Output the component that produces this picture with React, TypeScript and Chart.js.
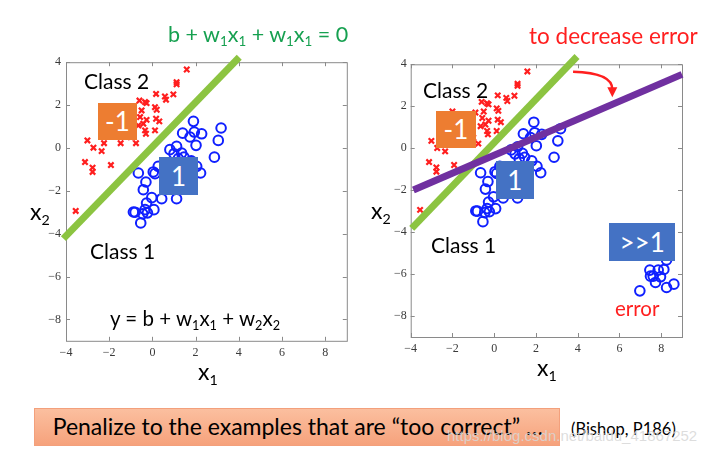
import React, { useEffect, useRef } from "react";
import { Chart, registerables } from "chart.js";

Chart.register(...registerables);

// ---- data ----
const xTicks = [-4, -2, 0, 2, 4, 6, 8];
const yTicks = [-8, -6, -4, -2, 0, 2, 4];

const class2X = [1.59, 1.12, 1.12, 0.17, 0.58, 0.97, 0.63, -0.6, -0.34, -0.27, 0.12, 0.2, -0.5, -0.57, -0.27, 0.17, 0.32, -0.42, -0.65, -0.34, 0.12, -0.3, -0.76, -1.47, -2.24, -3.01, -2.73, -2.35, -3.12, -2.77, -2.77, -1.92, -3.55, -0.9, -1.0, -1.5, -1.2, -2.0];
const class2Y = [3.66, 3.07, 2.97, 2.52, 2.4, 2.5, 2.25, 2.21, 2.14, 2.09, 1.9, 1.78, 1.75, 1.44, 1.31, 1.36, 1.24, 1.13, 1.05, 0.82, 0.82, 0.66, 0.22, 0.22, 0.22, 0.35, 0.01, -0.15, -0.66, -0.92, -1.12, -0.8, -2.94, 1.7, 0.5, 0.8, 1.2, 1.75];

const class1X = [1.9, 3.18, 1.4, 1.94, 2.28, 1.74, 3.05, 2.02, 0.81, 1.12, 1.0, 1.35, 1.46, 1.2, 2.87, 2.05, 2.23, -0.65, 0.27, 0.04, 0.12, -0.3, -0.42, 0.43, 1.12, -0.03, -0.27, -0.34, -0.45, -0.88, -0.8, 0.07, -0.23, -0.54, 0.6, 1.5, 1.8, 0.9];
const class1Y = [1.24, 0.93, 0.69, 0.74, 0.66, 0.51, 0.35, 0.12, -0.08, 0.07, -0.27, -0.24, -0.43, -0.5, -0.43, -0.86, -1.17, -1.17, -0.86, -1.12, -1.2, -1.59, -1.95, -2.37, -2.37, -2.32, -2.57, -2.88, -3.07, -2.99, -3.0, -2.88, -3.03, -3.5, -1.5, -1.0, -0.6, -1.9];

const outlierX = [6.98, 7.46, 7.62, 7.86, 8.13, 7.97, 7.73, 8.26, 8.61, 8.26, 7.49];
const outlierY = [-6.8, -5.81, -6.1, -5.81, -5.78, -6.13, -6.4, -6.64, -6.48, -5.33, -6.1];

const leftBoundaryX = [-4.12, 4.02];
const leftBoundaryY = [-4.23, 4.23];
const rightBoundaryX = [-3.95, 3.97];
const rightBoundaryY = [-3.82, 4.37];
const newBoundaryX = [-3.87, 9.0];
const newBoundaryY = [-1.99, 3.52];

// arrow: start, control, tip
const arrowX = [3.78, 5.66, 5.66];
const arrowY = [3.65, 3.6, 2.43];

const RED = "#ff1f1f";
const BLUE = "#1020ff";
const GREEN = "#8cc441";
const PURPLE = "#7030a0";

const pts = (xs: number[], ys: number[]) => xs.map((x, i) => ({ x, y: ys[i] }));
const fmt = (v: any) => (Number(v) < 0 ? "\u2212" + Math.abs(Number(v)) : String(v));

const framePlugin = {
  id: "frame",
  beforeDatasetsDraw(chart: any) {
    const { ctx, chartArea: a, scales } = chart;
    ctx.save();
    ctx.strokeStyle = "#8a8a8a";
    ctx.lineWidth = 1;
    ctx.strokeRect(a.left + 0.5, a.top + 0.5, a.right - a.left, a.bottom - a.top);
    const tl = 4;
    ctx.beginPath();
    xTicks.forEach((v) => {
      const px = Math.round(scales.x.getPixelForValue(v)) + 0.5;
      ctx.moveTo(px, a.bottom);
      ctx.lineTo(px, a.bottom - tl);
      ctx.moveTo(px, a.top);
      ctx.lineTo(px, a.top + tl);
    });
    yTicks.forEach((v) => {
      const py = Math.round(scales.y.getPixelForValue(v)) + 0.5;
      ctx.moveTo(a.left, py);
      ctx.lineTo(a.left + tl, py);
      ctx.moveTo(a.right, py);
      ctx.lineTo(a.right - tl, py);
    });
    ctx.stroke();
    ctx.restore();
  },
};

const arrowPlugin = {
  id: "arrow",
  afterDatasetsDraw(chart: any) {
    const { ctx, scales } = chart;
    const p = arrowX.map((v, i) => [scales.x.getPixelForValue(v), scales.y.getPixelForValue(arrowY[i])]);
    ctx.save();
    ctx.strokeStyle = RED;
    ctx.fillStyle = RED;
    ctx.lineWidth = 2.5;
    ctx.beginPath();
    ctx.moveTo(p[0][0], p[0][1]);
    ctx.quadraticCurveTo(p[1][0], p[1][1], p[2][0], p[2][1] - 8);
    ctx.stroke();
    ctx.beginPath();
    ctx.moveTo(p[2][0], p[2][1]);
    ctx.lineTo(p[2][0] - 5, p[2][1] - 10);
    ctx.lineTo(p[2][0] + 5, p[2][1] - 10);
    ctx.closePath();
    ctx.fill();
    ctx.restore();
  },
};

function makeScale(axis: "x" | "y", ticks: number[], min: number, max: number, padding: number, size: number) {
  return {
    type: "linear",
    min,
    max,
    afterBuildTicks: (s: any) => {
      s.ticks = ticks.map((v) => ({ value: v }));
    },
    afterFit: (s: any) => {
      if (axis === "x") s.height = size;
      else s.width = size;
    },
    grid: { display: false, drawTicks: false },
    border: { display: false },
    ticks: {
      autoSkip: false,
      maxRotation: 0,
      padding,
      color: "#3a3a3a",
      font: { family: "Liberation Serif", size: 12 },
      callback: (v: any) => fmt(v),
    },
  };
}

type PanelProps = {
  left: number;
  top: number;
  width: number;
  height: number;
  pad: { left: number; right: number; top: number; bottom: number };
  yPad: number;
  datasets: any[];
  plugins: any[];
};

function Panel({ left, top, width, height, pad, yPad, datasets, plugins }: PanelProps) {
  const ref = useRef<HTMLCanvasElement | null>(null);
  useEffect(() => {
    if (!ref.current) return;
    const chart = new Chart(ref.current, {
      type: "scatter",
      data: { datasets },
      options: {
        responsive: false,
        animation: false,
        layout: { padding: pad },
        plugins: { legend: { display: false }, tooltip: { enabled: false } },
        scales: {
          x: makeScale("x", xTicks, -4, 9, 5, 25) as any,
          y: makeScale("y", yTicks, -9, 4, yPad, 30) as any,
        },
      },
      plugins,
    } as any);
    return () => chart.destroy();
  }, []);
  return (
    <canvas
      ref={ref}
      width={width}
      height={height}
      style={{ position: "absolute", left, top, width, height }}
    />
  );
}

const lineDs = (xs: number[], ys: number[], color: string) => ({
  data: pts(xs, ys),
  showLine: true,
  borderColor: color,
  borderWidth: 7,
  pointRadius: 0,
  borderCapStyle: "butt",
  clip: false,
});
const crossDs = (xs: number[], ys: number[]) => ({
  data: pts(xs, ys),
  pointStyle: "crossRot",
  pointRadius: 3.8,
  pointBorderWidth: 2.2,
  borderColor: RED,
  backgroundColor: RED,
});
const circleDs = (xs: number[], ys: number[]) => ({
  data: pts(xs, ys),
  pointStyle: "circle",
  pointRadius: 4.8,
  pointBorderWidth: 2,
  borderColor: BLUE,
  backgroundColor: "rgba(0,0,0,0)",
});

const Sub = ({ children }: { children: React.ReactNode }) => (
  <span style={{ fontSize: "0.62em", position: "relative", top: "0.32em" }}>{children}</span>
);

const txt = (left: number, cy: number, size: number, color = "#000"): React.CSSProperties => ({
  position: "absolute",
  left,
  top: cy - size * 0.6,
  fontSize: size,
  lineHeight: `${size * 1.2}px`,
  color,
  whiteSpace: "nowrap",
});

const box = (x0: number, y0: number, x1: number, y1: number, bg: string): React.CSSProperties => ({
  position: "absolute",
  left: x0,
  top: y0,
  width: x1 - x0,
  height: y1 - y0,
  background: bg,
  color: "#fff",
  fontSize: 26,
  display: "flex",
  alignItems: "center",
  justifyContent: "center",
});

export default function App() {
  const ORANGE = "#ed7d31";
  const BBOX = "#4472c4";
  return (
    <div
      style={{
        position: "fixed",
        left: 0,
        top: 0,
        width: 725,
        height: 454,
        background: "#fff",
        overflow: "hidden",
        fontFamily: "Lato, 'Open Sans', sans-serif",
      }}
    >
      <Panel
        left={20}
        top={50}
        width={340}
        height={320}
        pad={{ left: 16, right: 13.2, top: 11.7, bottom: 4.2 }}
        yPad={5}
        datasets={[
          lineDs(leftBoundaryX, leftBoundaryY, GREEN),
          crossDs(class2X, class2Y),
          circleDs(class1X, class1Y),
        ]}
        plugins={[framePlugin]}
      />
      <Panel
        left={370}
        top={50}
        width={345}
        height={320}
        pad={{ left: 10.7, right: 33, top: 14.3, bottom: 8 }}
        yPad={4}
        datasets={[
          lineDs(newBoundaryX, newBoundaryY, PURPLE),
          lineDs(rightBoundaryX, rightBoundaryY, GREEN),
          crossDs(class2X, class2Y),
          circleDs(class1X, class1Y),
          circleDs(outlierX, outlierY),
        ]}
        plugins={[framePlugin, arrowPlugin]}
      />

      {/* titles */}
      <div style={txt(168, 35, 21.5, "#16a050")}>
        b + w<Sub>1</Sub>x<Sub>1</Sub> + w<Sub>1</Sub>x<Sub>1</Sub> = 0
      </div>
      <div style={txt(529, 35, 22.5, RED)}>to decrease error</div>

      {/* left panel annotations */}
      <div style={txt(84, 81, 21)}>Class 2</div>
      <div style={txt(90, 251, 21)}>Class 1</div>
      <div style={txt(110, 318, 20.5)}>
        y = b + w<Sub>1</Sub>x<Sub>1</Sub> + w<Sub>2</Sub>x<Sub>2</Sub>
      </div>
      <div style={txt(30, 212, 23)}>
        x<Sub>2</Sub>
      </div>
      <div style={txt(198, 372, 23)}>
        x<Sub>1</Sub>
      </div>
      <div style={box(97.7, 102.7, 137.3, 140, ORANGE)}>-1</div>
      <div style={box(159.3, 157.3, 197.7, 195, BBOX)}>1</div>

      {/* right panel annotations */}
      <div style={txt(423, 90, 21)}>Class 2</div>
      <div style={txt(431, 245, 21)}>Class 1</div>
      <div style={txt(371, 211, 23)}>
        x<Sub>2</Sub>
      </div>
      <div style={txt(537, 368, 23)}>
        x<Sub>1</Sub>
      </div>
      <div style={txt(615, 308, 20.5, RED)}>error</div>
      <div style={box(436, 111, 475.7, 147.7, ORANGE)}>-1</div>
      <div style={box(495.7, 160.7, 534, 199, BBOX)}>1</div>
      <div style={box(609.3, 222.7, 675, 260.7, BBOX)}>&gt;&gt;1</div>

      {/* bottom note */}
      <div
        style={{
          position: "absolute",
          left: 34,
          top: 407.7,
          width: 526,
          height: 38,
          background: "linear-gradient(#fbbf9f, #f6a27c)",
          border: "1px solid #f3a07c",
          boxSizing: "border-box",
        }}
      />
      <div style={txt(52.7, 427, 23)}>Penalize to the examples that are “too correct” …</div>
      <div style={txt(571, 430, 16.5)}>(Bishop, P186)</div>
      <div
        style={{
          ...txt(447, 436, 15, "rgba(215,215,215,0.85)"),
          fontFamily: "'Liberation Sans', Arial, sans-serif",
        }}
      >
        https://blog.csdn.net/baidu_41867252
      </div>
    </div>
  );
}
